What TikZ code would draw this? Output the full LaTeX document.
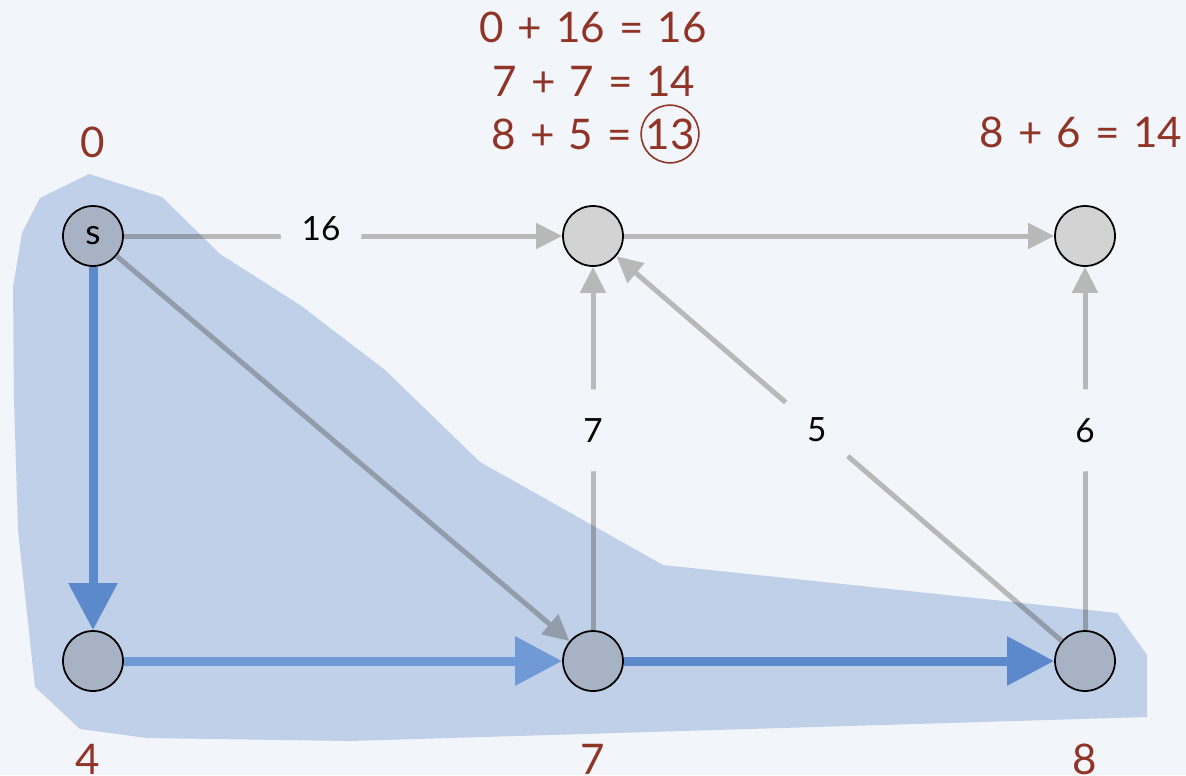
\documentclass[tikz,border=0pt]{standalone}
\usepackage{fontspec}
\setmainfont{Lato}[WordSpace=1.3]
\usetikzlibrary{arrows.meta}
\definecolor{bg}{HTML}{F2F5F9}
\definecolor{blob}{HTML}{CBD9EE}
\definecolor{nodegray}{HTML}{D3D3D3}
\definecolor{edgegray}{HTML}{B8B8B8}
\definecolor{blueA}{HTML}{74A1DA}
\definecolor{blueB}{HTML}{8CB6E6}
\definecolor{redtxt}{HTML}{8F3426}
\tikzset{
  vert/.style={circle, draw=black, line width=1pt, fill=nodegray, minimum size=1.2cm, inner sep=0pt, font=\fontsize{20}{22}\selectfont},
  gedge/.style={draw=edgegray, line width=0.1cm, -{Triangle[length=0.52cm,width=0.5cm]}},
  bedge/.style={draw=blueA, line width=0.18cm, -{Triangle[length=0.94cm,width=0.94cm]}},
  bedgelight/.style={bedge, draw=blueB},
  elab/.style={circle, fill=bg, minimum size=1.64cm, inner sep=0pt, text=black, font=\fontsize{19}{22}\selectfont},
  rlab/.style={text=redtxt, inner sep=0pt, font=\fontsize{24}{28}\selectfont},
}
\begin{document}
\begin{tikzpicture}[x=0.02cm,y=-0.02cm]
\fill[bg] (0,0) rectangle (1186,775);
\useasboundingbox (0,0) rectangle (1186,775);
% vertices
\node[vert] (s) at (93,236) {s};
\node[vert] (a) at (593,236) {};
\node[vert] (b) at (1085,236) {};
\node[vert] (c) at (93,661) {};
\node[vert] (d) at (593,661) {};
\node[vert] (e) at (1085,661) {};
% gray edges
\draw[gedge] (s) -- node[elab,pos=0.45,yshift=0.14cm]{16} (a);
\draw[gedge] (a) -- (b);
\draw[gedge] (s) -- (d);
\draw[gedge] (d) -- node[elab,pos=0.55]{7} (a);
\draw[gedge] (e) -- node[elab,pos=0.55]{5} (a);
\draw[gedge] (e) -- node[elab,pos=0.55]{6} (b);
% blue edges
\draw[bedge] (s) -- (c);
\draw[bedgelight] (c) -- (d);
\draw[bedge] (d) -- (e);
% blob
\begin{scope}[blend mode=multiply]
\fill[blob] (89,174) -- (162,197) -- (220,254) -- (300,305) -- (385,370) -- (480,462) -- (663,565) -- (1117,613) -- (1147,655) -- (1147,717) -- (350,741) -- (147,738) -- (80,729) -- (35,687) -- (18,530) -- (14,400) -- (13,287) -- (22,233) -- (40,198) -- cycle;
\end{scope}
% distance labels
\node[rlab] (l0) at (93,142) {0};
\node[rlab] (l4) at (88,759) {4};
\node[rlab] (l7) at (593,759) {7};
\node[rlab] (l8) at (1085,759) {8};
\node[rlab] (lb) at (1081,132) {8 + 6 = 14};
\node[rlab] (t1) at (593,27) {0 + 16 = 16};
\node[rlab] (t2) at (594,81) {7 + 7 = 14};
\node[rlab, anchor=east] (t3) at (632,134) {8 + 5 =};
\node[rlab, circle, draw=redtxt, line width=0.9pt, minimum size=1.12cm] (c13) at (670,134) {13};
\end{tikzpicture}
\end{document}
